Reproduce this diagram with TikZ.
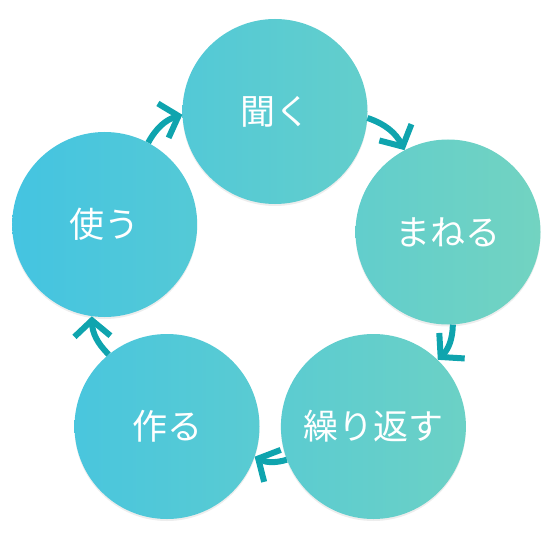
\documentclass[tikz,border=0pt]{standalone}
\usepackage{fontspec}
\newfontfamily\jpfont{Noto Sans CJK JP}
\usetikzlibrary{shapes.geometric,arrows.meta,shadows}
\definecolor{gL}{HTML}{44C4E1}
\definecolor{gR}{HTML}{72D3C1}
\definecolor{arrowteal}{HTML}{0FA4AE}
\begin{document}
\begin{tikzpicture}[x=1bp,y=-1bp,
  stepcircle/.style={circle, minimum size=185bp, inner sep=0pt,
    text=white, font=\jpfont\fontsize{35bp}{42bp}\selectfont,
    drop shadow={shadow xshift=0bp, shadow yshift=-2bp, opacity=0.07, fill=black}},
  cyc/.style={draw=arrowteal, line width=6bp,
    -{Straight Barb[length=16bp, width=36bp, line cap=butt, line join=miter]}},
]
\useasboundingbox (0,0) rectangle (550,550);
\node[stepcircle, left color=gL!100!gR, right color=gL!65!gR] (tsukau) at (104.7,224.5) {使う};
\node[stepcircle, left color=gL!88.2!gR, right color=gL!53.2!gR] (tsukuru) at (167,426.5) {作る};
\node[stepcircle, left color=gL!67.8!gR, right color=gL!32.8!gR] (kiku) at (275,111.5) {聞く};
\node[stepcircle, left color=gL!49.2!gR, right color=gL!14.2!gR] (kurikaesu) at (373.4,426.5) {繰り返す};
\node[stepcircle, left color=gL!35.1!gR, right color=gL!0!gR] (maneru) at (448,232) {まねる};
\draw[cyc] (tsukau.62) to[bend left=22] (kiku.182);
\draw[cyc] (kiku.-4) to[bend left=22] (maneru.118);
\draw[cyc] (maneru.-87) to[bend left=22] (kurikaesu.46);
\draw[cyc] (kurikaesu.201) to[bend left=22] (tsukuru.-19);
\draw[cyc] (tsukuru.129) to[bend left=22] (tsukau.-98);
\end{tikzpicture}
\end{document}
